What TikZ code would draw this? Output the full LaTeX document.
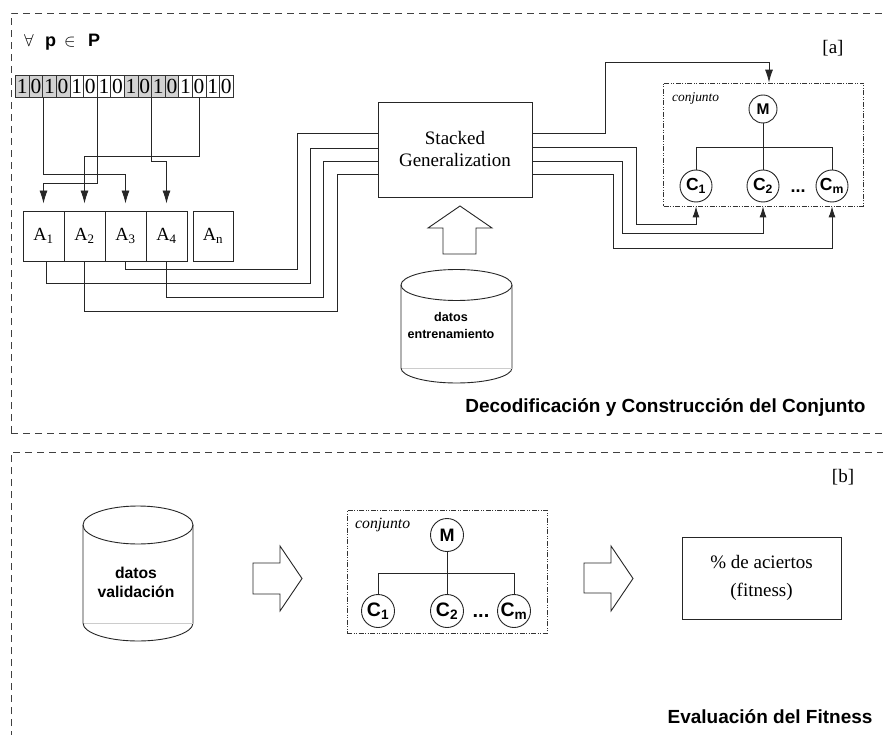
\documentclass[tikz,border=0pt]{standalone}
\usepackage{fontspec}
\setmainfont{Liberation Serif}
\setsansfont{Liberation Sans}
\usetikzlibrary{arrows.meta}
\begin{document}
\begin{tikzpicture}[x=1pt,y=-1pt,
  ln/.style={draw=black!85,line width=0.9pt},
  arr/.style={ln,-{Latex[length=13pt,width=8pt]}},
  sarr/.style={ln,-{Latex[length=11pt,width=7pt]}},
  panel/.style={draw=black!75,line width=0.9pt,dash pattern=on 7pt off 5pt},
  ensbox/.style={draw=black!80,line width=0.8pt,dash pattern=on 5pt off 1.5pt on 1pt off 1.5pt on 1pt off 1.5pt,minimum width=200pt,minimum height=123pt,inner sep=0pt},
  bitbox/.style={draw=black!80,line width=0.7pt,minimum width=13.6pt,minimum height=22.6pt,inner sep=0pt,font=\fontsize{21.5}{21.5}\selectfont},
  abox/.style={draw=black!85,line width=0.9pt,minimum width=41pt,minimum height=50pt,inner sep=0pt,font=\fontsize{18.5}{18.5}\selectfont},
  circA/.style={circle,draw=black!85,line width=0.9pt,minimum size=28pt,inner sep=0pt,font=\sffamily\bfseries\fontsize{15.5}{15.5}\selectfont},
  circAC/.style={circle,draw=black!85,line width=0.9pt,minimum size=32pt,inner sep=0pt,font=\sffamily\bfseries\fontsize{17.5}{17.5}\selectfont},
  circB/.style={circle,draw=black!85,line width=0.9pt,minimum size=33pt,inner sep=0pt,font=\sffamily\bfseries\fontsize{18}{18}\selectfont},
  circBC/.style={circle,draw=black!85,line width=0.9pt,minimum size=33pt,inner sep=0pt,font=\sffamily\bfseries\fontsize{19.5}{19.5}\selectfont},
  serif19/.style={font=\fontsize{19}{22}\selectfont},
  sansbig/.style={font=\sffamily\bfseries\fontsize{19}{22}\selectfont},
]
\useasboundingbox (0,0) rectangle (883,735);
\fill[white] (0,0) rectangle (883,735);

% panels
\draw[panel] (11,433) -- (11,13) -- (900,13);
\draw[panel] (11,433) -- (900,433);
\draw[panel] (11,750) -- (11,452) -- (900,452);

% ---------- top panel ----------
\node[anchor=base west,inner sep=0pt,font=\fontsize{17}{17}\selectfont] (fa) at (24,47) {$\forall$};
\node[anchor=base west,inner sep=0pt,font=\sffamily\bfseries\fontsize{18}{18}\selectfont] (pp) at (45,47) {p};
\node[anchor=base west,inner sep=0pt,font=\fontsize{17}{17}\selectfont] (in) at (64,47) {$\in$};
\node[anchor=base west,inner sep=0pt,font=\sffamily\bfseries\fontsize{18}{18}\selectfont] (PP) at (88,47) {P};
\node[serif19] (la) at (833,48) {[a]};

% bit string
\foreach \i/\v/\f in {0/1/gray!35,1/0/gray!35,2/1/gray!35,3/0/gray!35,
                      4/1/white,5/0/white,6/1/white,7/0/white,
                      8/1/gray!35,9/0/gray!35,10/1/gray!35,11/0/gray!35,
                      12/1/white,13/0/white,14/1/white,15/0/white}
  \node[bitbox,fill=\f] (b\i) at ({22.3+13.6*\i},86.3) {\v};

% A boxes
\node[abox] (A1) at (43.5,236) {A\textsubscript{1}};
\node[abox] (A2) at (84.5,236) {A\textsubscript{2}};
\node[abox] (A3) at (125.5,236) {A\textsubscript{3}};
\node[abox] (A4) at (166.5,236) {A\textsubscript{4}};
\node[abox,minimum width=40pt] (An) at (213,236) {A\textsubscript{n}};

% bits -> A boxes
\draw[arr,shorten >=7pt] (b1.south east) |- (A3.north |- 0,174.3) -- (A3.north);
\draw[arr,shorten >=7pt] (b5.south east) |- (A1.north |- 0,183.3) -- (A1.north);
\draw[arr,shorten >=7pt] (b9.south east) |- (A4.north |- 0,161.7) -- (A4.north);
\draw[arr,shorten >=7pt] (b13.south) |- (A2.north |- 0,156) -- (A2.north);

% Stacked generalization
\node[ln,minimum width=154pt,minimum height=95pt,align=center,serif19] (stack) at (455,149.5) {Stacked\\Generalization};

% A boxes -> stacked
\draw[ln] (A3.south) |- (297,269) |- (stack.west |- 0,133);
\draw[ln] ([xshift=3pt]A1.south) |- (310,283) |- (stack.west |- 0,148);
\draw[ln] (A4.south) |- (323,297) |- (stack.west |- 0,161);
\draw[ln] (A2.south) |- (337,311) |- (stack.west |- 0,174);

% training data cylinder
\draw[ln] (456.5,285) ellipse [x radius=55.5pt, y radius=15.5pt];
\draw[ln] (401,285) -- (401,368) arc[start angle=180,end angle=360,x radius=55.5pt,y radius=15pt] -- (512,285);
\draw[gray!40,line width=0.9pt] (401.5,368) -- (511.5,368);
\node[align=center,font=\sffamily\bfseries\fontsize{12.6}{17}\selectfont] (train) at (451,325) {datos\\entrenamiento};

% up block arrow
\draw[ln,line join=miter] (460,206) -- (492,228) -- (476,228) -- (476,254) -- (443,254) -- (443,228) -- (428,228) -- cycle;

% ensemble (top)
\node[ensbox] (ens) at (763.5,144.5) {};
\node[anchor=west,inner sep=0pt,font=\itshape\fontsize{13.4}{13.4}\selectfont] (lblA) at (672,98) {conjunto};
\node[circA] (M) at (763,109) {M};
\node[circAC] (C1) at (696,186) {C\textsubscript{1}};
\node[circAC] (C2) at (763,186) {C\textsubscript{2}};
\node[circAC] (Cm) at (832,186) {C\textsubscript{m}};
\node[font=\sffamily\bfseries\fontsize{18}{18}\selectfont] (dots) at (798,191) {...};
\draw[ln] (M.south) -- (C2.north);
\draw[ln] (C1.north) |- (Cm.north |- 0,147) -- (Cm.north);

% stacked -> ensemble
\draw[arr] (stack.east |- 0,133) -| (605,62) -| (ens.north -| 769,0);
\draw[sarr] (stack.east |- 0,147) -| (636,224) -| (C1 |- ens.south);
\draw[sarr] (stack.east |- 0,161) -| (622,233) -| (C2 |- ens.south);
\draw[sarr] (stack.east |- 0,174) -| (613,248) -| (Cm |- ens.south);

\node[anchor=east,sansbig] (titA) at (869,408) {Decodificación y Construcción del Conjunto};

% ---------- bottom panel ----------
\node[serif19] (lb) at (843,477) {[b]};

% validation cylinder
\draw[ln] (138,525) ellipse [x radius=55pt, y radius=19pt];
\draw[ln] (83,525) -- (83,623) arc[start angle=180,end angle=360,x radius=55pt,y radius=18pt] -- (193,525);
\draw[gray!40,line width=0.9pt] (83.5,623) -- (192.5,623);
\node[align=center,font=\sffamily\bfseries\fontsize{15.7}{19}\selectfont] (valid) at (136,582) {datos\\validación};

% right block arrows
\draw[ln,line join=miter] (253,563) -- (280,563) -- (280,546) -- (302,578.5) -- (280,611) -- (280,594) -- (253,594) -- cycle;
\draw[ln,line join=miter] (584,563) -- (611,563) -- (611,546) -- (633,578.5) -- (611,611) -- (611,593) -- (584,593) -- cycle;

% ensemble (bottom)
\node[ensbox] (ens2) at (447,571.5) {};
\node[anchor=west,inner sep=0pt,font=\itshape\fontsize{15.7}{15.7}\selectfont] (lblB) at (355,525) {conjunto};
\node[circB] (M2) at (447,535) {M};
\node[circBC] (D1) at (378,611) {C\textsubscript{1}};
\node[circBC] (D2) at (447,611) {C\textsubscript{2}};
\node[circBC] (Dm) at (514,611) {C\textsubscript{m}};
\node[font=\sffamily\bfseries\fontsize{20}{20}\selectfont] (dots2) at (481,616) {...};
\draw[ln] (M2.south) -- (D2.north);
\draw[ln] (D1.north) |- (Dm.north |- 0,573) -- (Dm.north);

% fitness box
\node[ln,minimum width=159pt,minimum height=82pt,align=center,font=\fontsize{19}{28}\selectfont] (fit) at (761.5,578) {\% de aciertos\\(fitness)};

\node[anchor=east,sansbig] (titB) at (876,717) {Evaluación del Fitness};
\end{tikzpicture}
\end{document}
